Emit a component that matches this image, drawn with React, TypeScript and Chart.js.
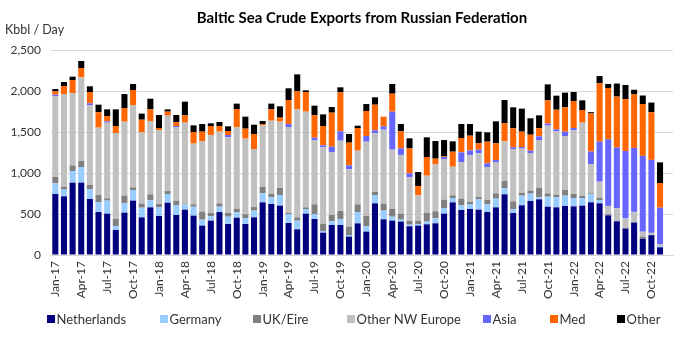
import React, { useEffect, useRef } from "react";
import { Chart, registerables } from "chart.js";

Chart.register(...registerables);

const months = [
  "Jan-17","Feb-17","Mar-17","Apr-17","May-17","Jun-17","Jul-17","Aug-17","Sep-17","Oct-17","Nov-17","Dec-17",
  "Jan-18","Feb-18","Mar-18","Apr-18","May-18","Jun-18","Jul-18","Aug-18","Sep-18","Oct-18","Nov-18","Dec-18",
  "Jan-19","Feb-19","Mar-19","Apr-19","May-19","Jun-19","Jul-19","Aug-19","Sep-19","Oct-19","Nov-19","Dec-19",
  "Jan-20","Feb-20","Mar-20","Apr-20","May-20","Jun-20","Jul-20","Aug-20","Sep-20","Oct-20","Nov-20","Dec-20",
  "Jan-21","Feb-21","Mar-21","Apr-21","May-21","Jun-21","Jul-21","Aug-21","Sep-21","Oct-21","Nov-21","Dec-21",
  "Jan-22","Feb-22","Mar-22","Apr-22","May-22","Jun-22","Jul-22","Aug-22","Sep-22","Oct-22","Nov-22","Dec-22",
];

const netherlands = [
  744, 715, 882, 882, 683, 524, 504, 305, 516, 663, 459, 581,
  476, 638, 488, 553, 480, 358, 419, 524, 378, 455, 378, 459,
  642, 622, 602, 390, 313, 504, 439, 272, 366, 366, 224, 386,
  285, 630, 435, 419, 407, 350, 358, 374, 386, 504, 642, 549,
  561, 553, 524, 581, 740, 512, 606, 659, 679, 589, 581, 598,
  593, 602, 642, 630, 484, 411, 321, 396, 197, 242, 94,
];
const germany = [
  130, 90, 142, 191, 118, 122, 159, 49, 114, 130, 118, 86,
  105, 106, 122, 65, 109, 73, 53, 65, 89, 65, 73, 82,
  110, 81, 130, 110, 106, 57, 61, 21, 45, 73, 20, 138,
  65, 102, 106, 48, 24, 20, 20, 33, 61, 69, 53, 57,
  61, 126, 94, 106, 73, 49, 118, 89, 24, 122, 122, 126,
  102, 93, 100, 41, 0, 0, 0, 0, 0, 0, 15,
];
const ukEire = [
  81, 28, 69, 73, 53, 86, 28, 85, 94, 32, 49, 73,
  41, 36, 53, 8, 29, 97, 40, 41, 45, 45, 45, 44,
  77, 45, 85, 12, 40, 20, 118, 89, 77, 98, 102, 94,
  126, 36, 85, 98, 73, 45, 41, 109, 86, 102, 33, 81,
  28, 28, 53, 65, 89, 93, 36, 37, 118, 41, 33, 69,
  49, 25, 10, 28, 12, 0, 12, 0, 27, 0, 0,
];
const otherNWEurope = [
  984, 1130, 883, 1021, 975, 821, 923, 1049, 902, 1004, 870, 894,
  902, 919, 894, 988, 740, 862, 951, 874, 923, 992, 923, 708,
  752, 890, 809, 1049, 1317, 1167, 784, 931, 764, 857, 699, 654,
  906, 716, 902, 720, 716, 532, 309, 451, 573, 496, 349, 447,
  570, 533, 402, 382, 484, 639, 537, 459, 581, 825, 772, 658,
  780, 894, 356, 195, 102, 159, 114, 130, 60, 28, 25,
];
const asia = [
  16, 0, 0, 0, 21, 0, 16, 0, 0, 0, 0, 0,
  0, 0, 16, 0, 0, 0, 0, 0, 28, 0, 0, 0,
  0, 0, 0, 36, 0, 0, 29, 24, 69, 114, 48, 0,
  69, 36, 41, 463, 81, 49, 0, 0, 0, 24, 0, 118,
  56, 45, 45, 25, 0, 20, 20, 28, 45, 25, 24, 53,
  25, 0, 154, 488, 813, 740, 821, 780, 925, 890, 443,
];
const med = [
  41, 98, 158, 113, 138, 187, 65, 85, 167, 183, 154, 142,
  25, 49, 45, 89, 142, 114, 110, 69, 49, 223, 122, 183,
  16, 138, 49, 293, 220, 240, 272, 236, 415, 476, 277, 277,
  305, 313, 118, 219, 207, 305, 113, 228, 69, 8, 183, 175,
  179, 77, 264, 203, 220, 232, 187, 195, 98, 284, 240, 297,
  329, 154, 464, 711, 626, 622, 634, 652, 632, 581, 301,
];
const other = [
  28, 49, 41, 86, 69, 93, 81, 203, 170, 73, 74, 130,
  158, 28, 89, 167, 81, 93, 33, 49, 57, 66, 146, 113,
  37, 70, 138, 143, 207, 20, 118, 142, 69, 61, 106, 28,
  85, 90, 0, 118, 89, 122, 171, 240, 215, 199, 126, 171,
  143, 142, 114, 268, 284, 256, 281, 200, 158, 195, 171, 179,
  110, 118, 16, 89, 49, 159, 171, 57, 104, 118, 252,
];

const yTicks = [0, 500, 1000, 1500, 2000, 2500];

const seriesNames = ["Netherlands", "Germany", "UK/Eire", "Other NW Europe", "Asia", "Med", "Other"];
const seriesColors = ["#000080", "#99CCFF", "#808080", "#C0C0C0", "#6666FF", "#FF6600", "#000000"];
const seriesData = [netherlands, germany, ukEire, otherNWEurope, asia, med, other];

const FONT = "Lato, 'Liberation Sans', Arial, sans-serif";
const TEXT = "#333333";

// layout of the legend row (left edge of each swatch) and the unit label
const legendSlots = [47, 160, 253, 347, 483, 550, 617];
const legendY = 319;

const extraText = {
  id: "extraText",
  afterDraw(chart: any) {
    const ctx = chart.ctx;
    ctx.save();
    // unit label
    ctx.font = `12.5px ${FONT}`;
    ctx.fillStyle = TEXT;
    ctx.textAlign = "left";
    ctx.textBaseline = "middle";
    ctx.fillText("Kbbl / Day", 5, 30);
    // legend
    ctx.font = `13px ${FONT}`;
    chart.data.datasets.forEach((ds: any, i: number) => {
      const x = legendSlots[i];
      ctx.fillStyle = ds.backgroundColor;
      ctx.fillRect(x, legendY - 4, 8, 8);
      ctx.fillStyle = TEXT;
      ctx.fillText(ds.label, x + 9.5, legendY + 0.5);
    });
    ctx.restore();
  },
};

export default function App() {
  const ref = useRef<HTMLCanvasElement | null>(null);

  useEffect(() => {
    document.body.style.margin = "0";
    const canvas = ref.current;
    if (!canvas) return;
    const chart = new Chart(canvas, {
      type: "bar",
      data: {
        labels: months,
        datasets: seriesData.map((d, i) => ({
          label: seriesNames[i],
          data: d,
          backgroundColor: seriesColors[i],
          borderWidth: 0,
          barPercentage: 0.7,
          categoryPercentage: 1.0,
        })),
      },
      options: {
        responsive: false,
        animation: false,
        devicePixelRatio: 1,
        layout: { padding: { left: 0, right: 18, top: 0, bottom: 0 } },
        plugins: {
          title: {
            display: true,
            text: "Baltic Sea Crude Exports from Russian Federation",
            fullSize: false,
            color: "#000000",
            font: { family: FONT, size: 15, weight: "bold" },
            padding: { top: 9, bottom: 23 },
          },
          legend: { display: false },
          tooltip: { enabled: false },
        },
        scales: {
          x: {
            stacked: true,
            grid: { display: false, drawTicks: false },
            border: { display: true, color: "#D9D9D9" },
            afterFit: (scale: any) => {
              scale.height = 90;
            },
            ticks: {
              autoSkip: false,
              minRotation: 90,
              maxRotation: 90,
              padding: 6,
              color: TEXT,
              font: { family: FONT, size: 12 },
              callback: (_v: any, i: number) => (i % 3 === 0 ? months[i] : ""),
            },
          },
          y: {
            stacked: true,
            min: yTicks[0],
            max: yTicks[yTicks.length - 1],
            afterFit: (scale: any) => {
              scale.width = 51;
            },
            afterBuildTicks: (scale: any) => {
              scale.ticks = yTicks.map((v) => ({ value: v }));
            },
            grid: { color: "#D9D9D9", drawTicks: false },
            border: { display: false },
            ticks: {
              padding: 10,
              color: TEXT,
              font: { family: FONT, size: 12 },
              callback: (v: any) => Number(v).toLocaleString("en-US"),
            },
          },
        },
      },
      plugins: [extraText],
    });
    return () => chart.destroy();
  }, []);

  return (
    <div style={{ position: "absolute", left: 0, top: 0, width: 691, height: 345, background: "#fff" }}>
      <canvas ref={ref} width={691} height={345} />
    </div>
  );
}
